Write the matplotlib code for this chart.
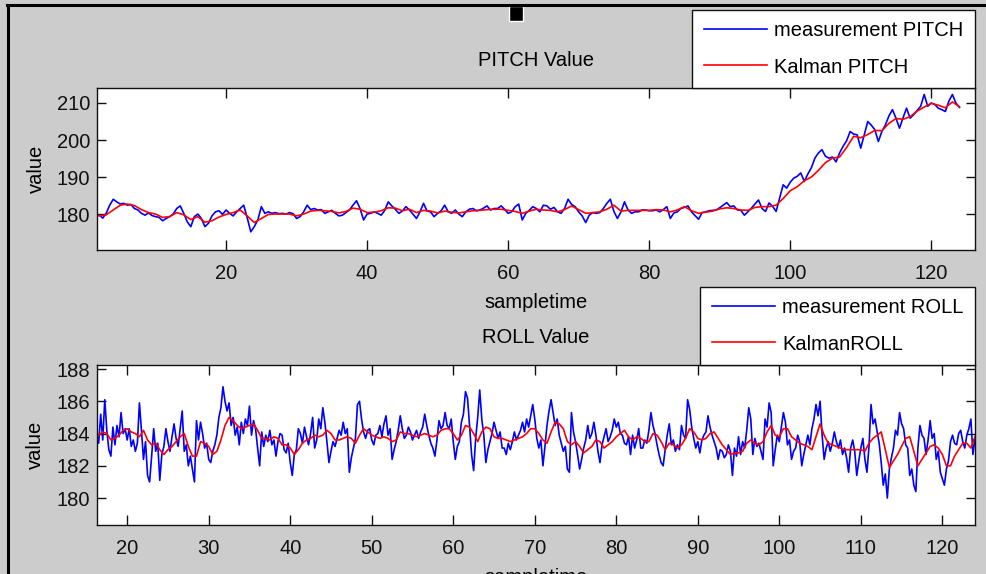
import numpy as np
import matplotlib
matplotlib.use("Agg")
import matplotlib.pyplot as plt
from matplotlib.lines import Line2D
from matplotlib.patches import Rectangle

plt.rcParams['font.family'] = ['Liberation Sans', 'DejaVu Sans']

# ---- PITCH data (sampletime starts + step) ----
pitch_meas_start, pitch_meas_step = 1.5, 0.5
pitch_meas = [
    179.6, 179.8, 178.9, 180.2, 182.4, 184.0, 183.3, 182.7, 182.9, 182.4, 182.6, 181.5, 181.1, 180.2, 179.7, 180.3, 179.6, 179.3, 179.1, 178.2,
    178.8, 179.3, 180.0, 181.5, 182.2, 180.2, 177.9, 176.6, 179.3, 180.0, 178.8, 176.6, 177.5, 179.5, 180.6, 180.9, 179.9, 181.1, 180.2, 179.5,
    180.6, 181.5, 182.4, 179.0, 175.2, 176.6, 178.4, 182.0, 180.2, 180.6, 180.2, 180.4, 180.1, 180.2, 180.0, 180.4, 180.1, 178.8, 179.3, 180.6,
    182.4, 181.2, 181.5, 181.1, 181.2, 180.2, 180.6, 181.0, 180.2, 179.5, 179.7, 180.4, 181.1, 182.4, 183.6, 181.5, 178.4, 180.0, 180.2, 180.6,
    180.2, 179.7, 181.0, 183.3, 182.2, 181.3, 180.2, 180.8, 182.0, 181.1, 180.0, 178.8, 180.6, 182.9, 180.8, 180.6, 179.3, 180.2, 180.9, 182.4,
    180.6, 180.2, 181.1, 180.0, 179.3, 180.6, 181.3, 181.5, 180.9, 181.1, 181.6, 182.2, 181.1, 181.5, 181.5, 182.2, 181.3, 180.2, 180.6, 182.0,
    182.7, 178.4, 180.2, 181.0, 182.0, 181.5, 180.6, 182.4, 182.2, 181.3, 181.8, 180.6, 180.2, 181.5, 184.0, 182.6, 182.0, 180.6, 179.5, 177.7,
    179.7, 180.4, 180.2, 180.4, 181.5, 182.9, 184.0, 180.7, 178.8, 180.6, 183.3, 181.1, 180.2, 180.6, 180.6, 181.1, 181.1, 180.9, 180.9, 181.1,
    180.6, 181.2, 182.0, 178.8, 180.3, 180.6, 181.5, 181.8, 182.2, 180.6, 179.6, 178.6, 180.4, 180.6, 180.9, 181.0, 181.1, 181.7, 182.4, 183.1,
    182.0, 182.2, 181.1, 181.0, 179.7, 180.6, 181.6, 182.7, 183.8, 181.5, 180.7, 183.0, 182.1, 180.7, 184.3, 187.9, 187.0, 188.6, 189.7, 190.2,
    191.1, 188.8, 190.8, 192.5, 195.1, 196.5, 197.4, 195.6, 195.1, 195.4, 194.1, 196.5, 198.3, 199.8, 202.3, 201.6, 201.4, 197.8, 201.4, 205.0,
    204.0, 202.8, 199.6, 202.3, 204.1, 206.5, 208.2, 205.9, 203.2, 206.0, 208.6, 205.9, 206.8, 208.0, 209.1, 212.3, 209.1, 210.0, 209.6, 208.6,
    208.2, 207.7, 210.5, 212.3, 210.0, 208.8,
]
pitch_kal_start, pitch_kal_step = 2.0, 1.0
pitch_kal = [
    179.5, 179.8, 181.1, 182.4, 182.7, 182.3, 181.2, 180.4, 180.0, 179.1,
    179.3, 180.4, 179.8, 178.5, 179.3, 177.8, 178.2, 179.2, 179.9, 180.4,
    181.1, 179.5, 177.7, 178.8, 179.9, 180.0, 180.0, 180.0, 179.5, 180.0,
    180.8, 181.0, 180.9, 180.7, 180.3, 180.7, 181.6, 181.3, 180.4, 180.5,
    180.9, 181.7, 181.6, 180.9, 181.3, 180.4, 181.0, 180.8, 180.3, 180.8,
    180.5, 180.3, 180.6, 180.9, 181.0, 181.2, 181.3, 181.3, 181.0, 180.7,
    180.2, 180.8, 181.3, 181.1, 181.0, 180.6, 181.2, 182.2, 181.2, 180.2,
    180.4, 180.6, 181.3, 182.4, 180.8, 181.0, 181.0, 181.0, 181.0, 181.2,
    181.1, 180.6, 181.1, 182.0, 180.9, 180.2, 180.5, 180.8, 181.4, 181.7,
    181.5, 181.1, 181.0, 181.8, 182.0, 182.0, 182.4, 184.2, 186.3, 187.4,
    189.0, 190.0, 191.8, 193.9, 195.1, 195.4, 198.0, 201.0, 200.6, 201.5,
    202.6, 202.5, 204.5, 205.8, 205.6, 206.3, 207.8, 208.9, 209.9, 209.4,
    208.7, 210.3, 209.0,
]

# ---- ROLL data ----
roll_meas_start, roll_meas_step = 16.25, 0.25
roll_meas = [
    184.0, 183.4, 185.2, 183.6, 186.1, 184.2, 183.0, 182.6, 184.4, 183.3, 184.5, 183.8, 185.3, 184.0, 184.3, 183.6, 184.3, 183.2, 183.6, 182.9,
    183.4, 185.9, 184.2, 182.4, 183.5, 181.4, 181.0, 182.6, 184.3, 182.9, 183.4, 181.1, 182.7, 183.2, 184.3, 183.5, 182.9, 183.8, 184.6, 183.7,
    183.2, 184.3, 185.4, 182.9, 183.3, 182.0, 182.6, 181.8, 181.0, 184.8, 183.6, 184.7, 184.0, 183.1, 183.4, 182.4, 182.2, 182.9, 183.3, 183.9,
    185.0, 185.6, 186.9, 186.0, 185.4, 185.9, 184.5, 185.0, 183.9, 184.4, 183.3, 184.7, 184.0, 184.9, 184.5, 185.7, 183.9, 184.8, 184.3, 183.1,
    182.0, 184.1, 183.2, 183.9, 183.5, 184.2, 183.3, 183.6, 182.6, 183.5, 184.0, 183.9, 183.0, 182.8, 183.4, 182.2, 181.4, 182.7, 183.0, 184.3,
    184.0, 183.4, 184.4, 183.8, 183.3, 184.0, 185.0, 183.1, 183.6, 184.9, 184.3, 185.6, 184.7, 183.5, 182.2, 182.9, 183.5, 183.2, 183.7, 184.2,
    183.9, 184.7, 184.0, 184.3, 181.6, 182.5, 183.1, 183.7, 185.8, 186.0, 184.9, 184.1, 183.7, 184.2, 184.3, 183.6, 183.3, 183.9, 184.0, 184.5,
    183.8, 184.6, 185.1, 183.9, 184.3, 182.4, 183.0, 183.5, 184.2, 185.1, 184.3, 183.7, 183.9, 184.4, 184.1, 183.6, 183.9, 184.2, 183.7, 184.1,
    184.4, 185.2, 184.5, 183.9, 183.4, 183.1, 182.6, 183.6, 184.8, 184.3, 184.5, 185.3, 184.5, 184.3, 184.9, 183.5, 182.4, 183.2, 183.5, 184.7,
    185.2, 186.6, 186.2, 184.5, 182.7, 181.7, 183.7, 185.0, 186.7, 184.9, 183.9, 182.2, 183.0, 183.5, 184.0, 184.7, 184.2, 183.7, 184.1, 183.1,
    183.1, 182.7, 183.4, 183.0, 183.5, 184.1, 183.6, 183.9, 184.2, 184.7, 184.1, 184.9, 184.4, 185.1, 185.8, 184.9, 183.7, 183.1, 183.6, 182.0,
    183.2, 184.5, 185.4, 186.1, 185.3, 184.5, 184.9, 183.9, 183.4, 182.9, 183.2, 181.8, 181.6, 185.3, 184.1, 183.5, 182.7, 181.8, 182.4, 183.1,
    183.6, 184.5, 183.7, 184.0, 184.7, 183.9, 182.9, 182.2, 183.3, 183.8, 184.3, 183.5, 183.8, 184.2, 184.9, 184.4, 184.7, 184.0, 183.9, 183.4,
    183.3, 183.8, 182.7, 183.9, 183.1, 183.6, 184.3, 183.1, 183.1, 183.6, 183.4, 184.2, 185.3, 184.5, 184.0, 183.3, 182.7, 182.2, 182.0, 183.0,
    183.9, 184.6, 183.3, 183.6, 182.9, 183.3, 183.0, 184.5, 183.9, 183.7, 186.1, 185.5, 184.4, 183.7, 183.1, 183.5, 182.8, 183.6, 183.9, 184.1,
    185.1, 184.4, 183.9, 183.5, 183.1, 182.4, 183.0, 182.9, 182.5, 182.7, 183.3, 182.9, 181.4, 183.1, 182.6, 183.8, 182.7, 183.5, 183.1, 184.2,
    185.6, 184.9, 182.7, 183.7, 183.2, 183.4, 182.9, 182.4, 184.9, 184.4, 185.9, 185.3, 182.0, 183.0, 183.9, 183.5, 184.4, 185.3, 184.7, 183.3,
    183.6, 182.4, 182.9, 183.1, 183.9, 183.5, 182.0, 182.7, 183.3, 183.9, 183.3, 184.3, 184.9, 185.8, 185.1, 186.0, 183.9, 182.4, 183.1, 183.5,
    182.9, 183.4, 184.1, 183.5, 183.1, 183.6, 182.7, 183.1, 182.5, 181.6, 183.1, 183.6, 182.9, 181.4, 182.3, 183.1, 183.7, 182.4, 181.6, 183.2,
    185.8, 184.6, 184.9, 184.1, 183.4, 182.2, 180.8, 181.5, 180.0, 181.8, 182.5, 183.1, 184.2, 183.9, 185.3, 184.6, 184.3, 183.3, 183.1, 181.4,
    181.8, 180.8, 180.4, 183.1, 184.5, 183.9, 183.7, 182.7, 183.6, 184.8, 183.7, 184.0, 182.4, 182.9, 181.6, 181.2, 180.8, 181.8, 182.3, 183.5,
    183.9, 183.4, 183.3, 184.0, 184.2, 183.5, 183.1, 183.9, 184.3, 184.9, 182.7, 183.7,
]
roll_kal_start, roll_kal_step = 16.0, 0.5
roll_kal = [
    183.9, 183.9, 184.1, 184.0, 183.6, 183.7, 183.9, 184.2, 184.3, 184.1,
    184.0, 183.8, 184.2, 183.6, 183.3, 183.4, 183.0, 182.7, 183.0, 183.2,
    183.5, 183.8, 184.0, 183.2, 182.6, 182.6, 183.5, 183.4, 183.2, 182.7,
    182.9, 183.6, 184.5, 185.0, 184.8, 184.5, 184.3, 184.4, 184.5, 184.6,
    184.2, 183.7, 183.7, 183.6, 183.8, 183.7, 183.3, 183.3, 183.1, 182.7,
    183.0, 183.4, 183.6, 183.7, 183.9, 183.8, 183.9, 184.2, 184.0, 183.6,
    183.6, 183.7, 183.8, 183.7, 183.4, 183.9, 184.3, 184.1, 183.9, 183.8,
    183.7, 183.8, 183.7, 183.5, 183.6, 184.1, 184.0, 184.0, 183.9, 183.8,
    183.9, 184.0, 183.9, 183.8, 183.9, 184.2, 184.3, 184.3, 184.0, 183.6,
    183.9, 184.5, 184.4, 184.0, 183.5, 184.1, 184.4, 184.3, 183.8, 183.7,
    183.7, 183.6, 183.5, 183.6, 183.7, 183.8, 184.0, 184.3, 184.3, 184.0,
    183.6, 183.4, 184.1, 184.7, 184.6, 184.3, 183.5, 183.3, 183.5, 183.2,
    182.8, 183.0, 183.2, 183.6, 183.5, 183.1, 183.3, 183.5, 183.8, 184.0,
    184.2, 183.8, 183.6, 183.8, 183.7, 183.5, 183.5, 184.0, 183.9, 183.5,
    183.0, 183.4, 183.3, 183.1, 183.3, 183.7, 184.3, 184.1, 183.7, 183.6,
    183.7, 184.0, 184.1, 183.7, 183.3, 183.0, 182.7, 182.8, 182.8, 182.9,
    183.4, 183.6, 183.4, 183.3, 183.5, 184.1, 184.5, 183.9, 183.8, 184.3,
    184.3, 183.8, 183.6, 183.4, 183.3, 183.2, 183.0, 183.8, 184.6, 183.9,
    183.4, 183.3, 183.2, 183.1, 183.0, 183.0, 183.0, 183.0, 183.0, 182.9,
    183.4, 183.7, 183.9, 184.1, 183.0, 181.9, 182.3, 182.7, 183.2, 183.7,
    183.8, 182.9, 182.0, 182.4, 182.8, 183.2, 183.3, 183.1, 182.7, 182.0,
    182.0, 182.6, 183.0, 183.4, 183.4, 183.1, 183.8,
]

pitch_xticks = [20, 40, 60, 80, 100, 120]
pitch_yticks = [180, 190, 200, 210]
roll_xticks = [20, 30, 40, 50, 60, 70, 80, 90, 100, 110, 120]
roll_yticks = [180, 182, 184, 186, 188]


def xs(start, step, vals):
    return start + step * np.arange(len(vals))


FS = 14.5
BG = '#cccccc'

fig = plt.figure(figsize=(9.87, 5.74), dpi=100, facecolor=BG)
ax1 = fig.add_axes([0.0983, 0.5645, 0.8895, 0.2822])
ax2 = fig.add_axes([0.0983, 0.0854, 0.8895, 0.2787])


def style(ax, xticks, yticks, xlim, ylim):
    ax.set_xlim(*xlim)
    ax.set_ylim(*ylim)
    ax.set_xticks(xticks)
    ax.set_yticks(yticks)
    ax.tick_params(axis='both', direction='in', top=True, right=True,
                   width=1.0, labelsize=FS, colors='#111111')
    ax.tick_params(axis='x', length=7, pad=10)
    ax.tick_params(axis='y', length=6.3, pad=5)
    for s in ax.spines.values():
        s.set_linewidth(1.0)
        s.set_color('#111111')
    ax.set_ylabel('value', fontsize=FS, labelpad=8)
    ax.set_xlabel('sampletime', fontsize=FS, labelpad=7)


ax1.plot(xs(pitch_meas_start, pitch_meas_step, pitch_meas), pitch_meas,
         color='#0000ff', lw=1.2, label='measurement PITCH')
ax1.plot(xs(pitch_kal_start, pitch_kal_step, pitch_kal), pitch_kal,
         color='#ff0000', lw=1.2, label='Kalman PITCH')
style(ax1, pitch_xticks, pitch_yticks, (1.7, 126.2), (170.3, 214.05))
ax1.set_title('PITCH Value', fontsize=FS, pad=16)

ax2.plot(xs(roll_meas_start, roll_meas_step, roll_meas), roll_meas,
         color='#0000ff', lw=1.2, label='measurement ROLL')
ax2.plot(xs(roll_kal_start, roll_kal_step, roll_kal), roll_kal,
         color='#ff0000', lw=1.2, label='KalmanROLL')
style(ax2, roll_xticks, roll_yticks, (16.3, 124.0), (178.33, 188.25))
ax2.set_title('ROLL Value', fontsize=FS, pad=16)

for ax in (ax1, ax2):
    leg = ax.legend(loc='lower right', bbox_to_anchor=(1.0, 1.0), borderaxespad=0,
                    fontsize=FS, fancybox=False, framealpha=1, edgecolor='#111111',
                    handlelength=3.15, handletextpad=0.35, labelspacing=0.85,
                    borderpad=0.57)
    leg.get_frame().set_linewidth(1.0)

# screenshot frame and the little marker at the top
fig.add_artist(Line2D([0.007, 1.0], [0.9913, 0.9913], transform=fig.transFigure,
                      color='black', lw=2.2))
fig.add_artist(Line2D([0.0081, 0.0081], [0.0, 0.9913], transform=fig.transFigure,
                      color='black', lw=2.2))
fig.add_artist(Rectangle((509 / 987, 1 - 21 / 574), 14 / 987, 15 / 574,
                         transform=fig.transFigure, facecolor='black',
                         edgecolor='white', lw=1.0))

fig.savefig('out.png', dpi=100, facecolor=BG)
